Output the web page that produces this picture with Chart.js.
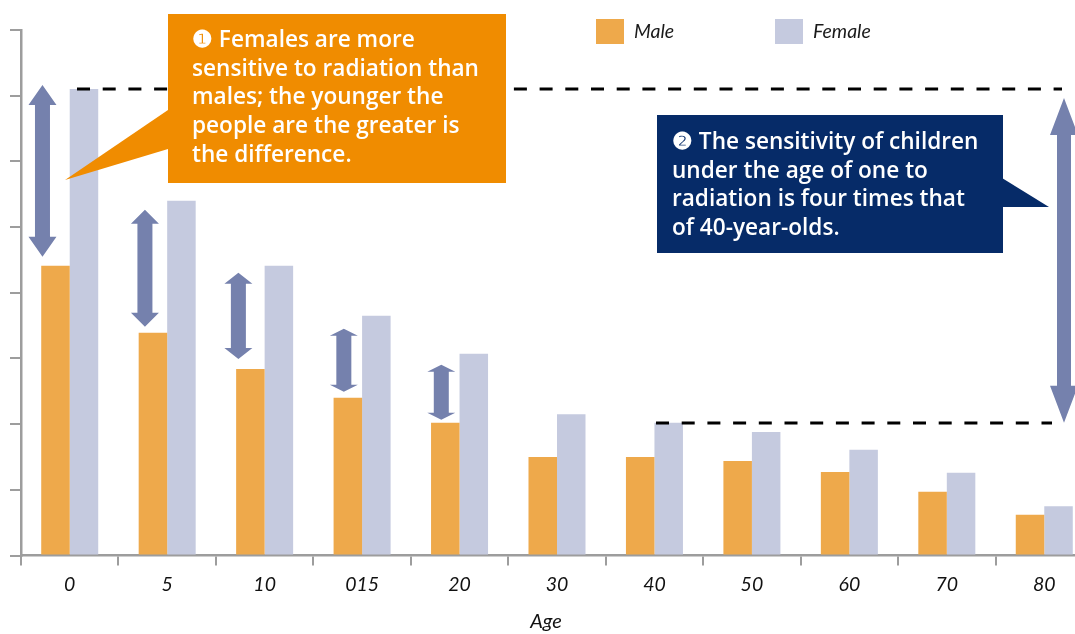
<!DOCTYPE html>
<html>
<head>
<meta charset="utf-8">
<script src="https://cdn.jsdelivr.net/npm/chart.js@4.4.1/dist/chart.umd.min.js"></script>
<style>
  html, body { margin: 0; padding: 0; background: #fff; overflow: hidden; }
  #wrap { position: absolute; left: 0; top: 0; width: 1093px; height: 634px; }
</style>
</head>
<body>
<div id="wrap"><canvas id="chart" width="1093" height="634"></canvas></div>
<script>
// ---------- Data ----------
const ages = ["0", "5", "10", "015", "20", "30", "40", "50", "60", "70", "80"];
const male = [4.41, 3.39, 2.84, 2.40, 2.02, 1.50, 1.50, 1.44, 1.27, 0.97, 0.62];
const female = [7.10, 5.40, 4.41, 3.65, 3.07, 2.15, 2.02, 1.88, 1.61, 1.26, 0.75];
const seriesNames = ["Male", "Female"];
const xTitle = "Age";
const yMax = 8;
const note1 = ["❶ Females are more", "sensitive to radiation than", "males; the younger the", "people are the greater is", "the difference."];
const note2 = ["❷ The sensitivity of children", "under the age of one to", "radiation is four times that", "of 40-year-olds."];

// ---------- Styles ----------
const MALE_COL = "#eea94b";
const FEMALE_COL = "#c5cadf";
const ARROW_COL = "#7581ad";
const AXIS_COL = "#9d9d9d";
const ORANGE = "#f08c00";
const NAVY = "#062b68";
const ital = { family: "Lato, 'Open Sans', sans-serif", style: "italic", size: 19.5 };

// ---------- Helpers ----------
function dblArrow(ctx, cx, top, bot, shaft, head, hl) {
  ctx.beginPath();
  ctx.moveTo(cx, top);
  ctx.lineTo(cx + head / 2, top + hl);
  ctx.lineTo(cx + shaft / 2, top + hl);
  ctx.lineTo(cx + shaft / 2, bot - hl);
  ctx.lineTo(cx + head / 2, bot - hl);
  ctx.lineTo(cx, bot);
  ctx.lineTo(cx - head / 2, bot - hl);
  ctx.lineTo(cx - shaft / 2, bot - hl);
  ctx.lineTo(cx - shaft / 2, top + hl);
  ctx.lineTo(cx - head / 2, top + hl);
  ctx.closePath();
  ctx.fill();
}

function hDash(ctx, x1, x2, y) {
  ctx.beginPath();
  ctx.moveTo(x1, y);
  ctx.lineTo(x2, y);
  ctx.stroke();
}

function poly(ctx, pts, color) {
  ctx.fillStyle = color;
  ctx.beginPath();
  pts.forEach(([x, y], i) => (i ? ctx.lineTo(x, y) : ctx.moveTo(x, y)));
  ctx.closePath();
  ctx.fill();
}

// small difference arrows for the first five age groups
const arrowDx = [-13, -8, -12, -4, -4];
const arrowTopIn = [-4, 9, 7, 13, 11];
const arrowBotIn = [9, 6, 10, 6, 3];
const arrowHead = [20, 14, 11, 7, 7];

const notes = {
  id: "notes",
  afterDatasetsDraw(chart) {
    const ctx = chart.ctx;
    const y = chart.scales.y;
    const mBars = chart.getDatasetMeta(0).data;
    ctx.save();

    // dashed guides
    ctx.strokeStyle = "#000";
    ctx.lineWidth = 3;
    ctx.setLineDash([13, 12.7]);
    hDash(ctx, 77, 1062, Math.round(y.getPixelForValue(female[0])));
    hDash(ctx, 656, 1052, Math.round(y.getPixelForValue(female[6])));
    ctx.setLineDash([]);

    // difference arrows
    ctx.fillStyle = ARROW_COL;
    for (let i = 0; i < 5; i++) {
      const cx = mBars[i].x + arrowDx[i];
      const top = y.getPixelForValue(female[i]) + arrowTopIn[i];
      const bot = y.getPixelForValue(male[i]) - arrowBotIn[i];
      dblArrow(ctx, cx, top, bot, 15, 28, arrowHead[i]);
    }
    // big arrow (age 0 vs age 40)
    dblArrow(ctx, 1064, y.getPixelForValue(female[0]) + 9, y.getPixelForValue(female[6]), 14, 28, 37);

    // text size fitted to the reference line width
    ctx.font = "600 21px 'Open Sans', sans-serif";
    const fs = 21 * 287 / ctx.measureText(note1[1]).width;
    const font = `600 ${fs.toFixed(2)}px 'Open Sans', sans-serif`;

    // orange callout
    poly(ctx, [[168, 110], [65, 180], [168, 149]], ORANGE);
    ctx.fillStyle = ORANGE;
    ctx.fillRect(168, 14, 338, 169);
    ctx.fillStyle = "#fff";
    ctx.font = font;
    ctx.textBaseline = "alphabetic";
    note1.forEach((t, i) => ctx.fillText(t, 192, 47 + i * 28.7));

    // navy callout
    poly(ctx, [[1002, 178], [1049, 207], [1002, 207]], NAVY);
    ctx.fillStyle = NAVY;
    ctx.fillRect(657, 115, 346, 138);
    ctx.fillStyle = "#fff";
    note2.forEach((t, i) => ctx.fillText(t, 672, 149 + i * 28.7));

    ctx.restore();
  },
  afterDraw(chart) {
    const ctx = chart.ctx;
    ctx.save();
    // legend
    const xs = [596, 775];
    ctx.font = "italic 19.5px Lato, 'Open Sans', sans-serif";
    ctx.textBaseline = "alphabetic";
    chart.data.datasets.forEach((ds, i) => {
      ctx.fillStyle = ds.backgroundColor;
      ctx.fillRect(xs[i], 19, 28, 25);
      ctx.fillStyle = "#1a1a1a";
      ctx.fillText(ds.label, xs[i] + 38, 38);
    });
    // axis title, centred on the visible plot
    ctx.fillStyle = "#111";
    ctx.textAlign = "center";
    ctx.font = "italic 20px Lato, 'Open Sans', sans-serif";
    ctx.fillText(xTitle, 546, 628);
    ctx.restore();
  },
};

// ---------- Chart ----------
new Chart(document.getElementById("chart"), {
  type: "bar",
  data: {
    labels: ages,
    datasets: [
      { label: seriesNames[0], data: male, backgroundColor: MALE_COL },
      { label: seriesNames[1], data: female, backgroundColor: FEMALE_COL },
    ],
  },
  options: {
    responsive: false,
    animation: false,
    events: [],
    categoryPercentage: 0.585,
    barPercentage: 1,
    layout: { padding: { top: 30, left: 0, right: 0, bottom: 0 } },
    plugins: { legend: { display: false }, tooltip: { enabled: false } },
    scales: {
      x: {
        grid: { drawOnChartArea: false, drawTicks: true, tickLength: 10, color: AXIS_COL, lineWidth: 2, offset: true },
        border: { color: AXIS_COL, width: 2.5 },
        ticks: { color: "#111", font: ital, padding: 8, maxRotation: 0, autoSkip: false },
        afterFit(s) { s.height = 78.5; },
      },
      y: {
        min: 0,
        max: yMax,
        ticks: { display: false, stepSize: 1 },
        grid: { drawOnChartArea: false, tickLength: 11, color: AXIS_COL, lineWidth: 2 },
        border: { color: AXIS_COL, width: 2.5 },
        afterFit(s) { s.width = 21; },
      },
    },
  },
  plugins: [notes],
});
</script>
</body>
</html>
